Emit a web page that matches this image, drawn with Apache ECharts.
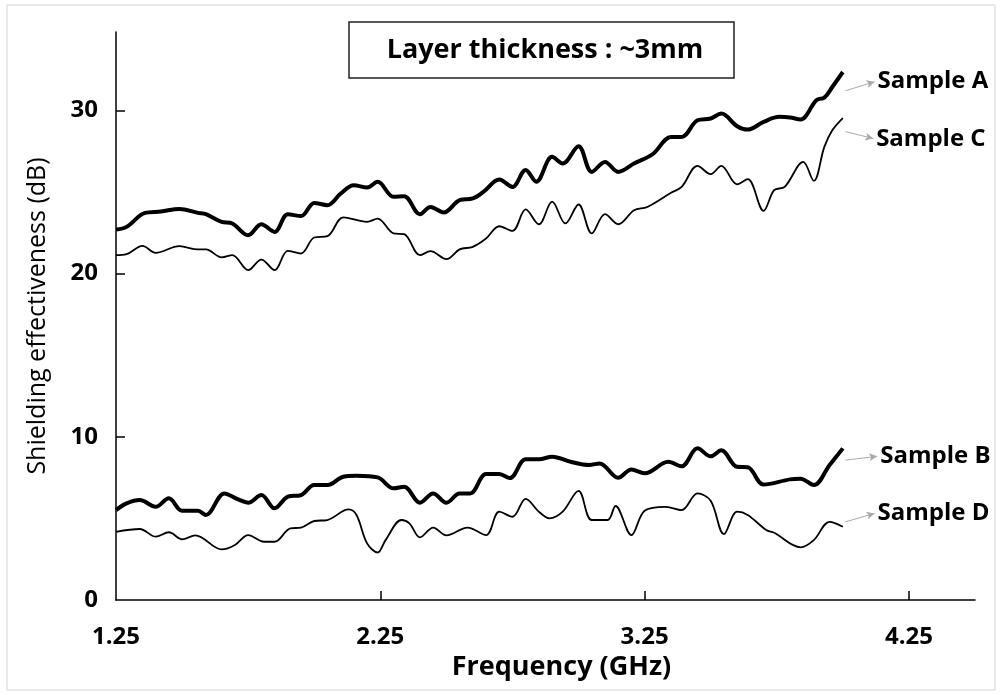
<!DOCTYPE html>
<html>
<head>
<meta charset="utf-8">
<script src="https://cdn.jsdelivr.net/npm/echarts@6/dist/echarts.min.js"></script>
<style>
  html, body { margin: 0; padding: 0; background: #fff; }
  #chart { width: 1002px; height: 695px; }
</style>
</head>
<body>
<div id="chart"></div>
<script>
// [frequency GHz, shielding effectiveness dB]
const sampleA = [[1.25,22.70],[1.29,22.86],[1.36,23.72],[1.42,23.80],[1.49,23.96],[1.56,23.72],[1.59,23.64],[1.65,23.17],[1.69,23.07],[1.75,22.35],[1.80,23.02],[1.85,22.55],[1.90,23.64],[1.95,23.52],[2.00,24.33],[2.05,24.19],[2.10,24.90],[2.15,25.41],[2.20,25.27],[2.24,25.62],[2.30,24.70],[2.34,24.74],[2.40,23.64],[2.44,24.08],[2.49,23.74],[2.55,24.50],[2.60,24.60],[2.64,25.00],[2.70,25.76],[2.75,25.31],[2.80,26.35],[2.84,25.63],[2.90,27.15],[2.94,26.74],[3.00,27.80],[3.05,26.23],[3.10,26.84],[3.15,26.23],[3.21,26.74],[3.28,27.31],[3.35,28.37],[3.39,28.37],[3.45,29.39],[3.50,29.50],[3.54,29.80],[3.60,29.03],[3.64,28.82],[3.70,29.29],[3.76,29.60],[3.80,29.56],[3.84,29.44],[3.90,30.62],[3.93,30.78],[3.96,31.43],[4.00,32.35]];
const sampleC = [[1.25,21.13],[1.29,21.19],[1.35,21.70],[1.40,21.27],[1.49,21.68],[1.56,21.48],[1.59,21.48],[1.65,20.99],[1.69,21.13],[1.75,20.21],[1.80,20.86],[1.85,20.21],[1.90,21.39],[1.95,21.23],[2.00,22.21],[2.05,22.29],[2.11,23.44],[2.20,23.17],[2.24,23.37],[2.30,22.46],[2.34,22.41],[2.40,21.13],[2.44,21.37],[2.50,20.88],[2.55,21.48],[2.60,21.64],[2.65,22.15],[2.70,22.90],[2.75,22.61],[2.80,23.93],[2.85,23.02],[2.90,24.41],[2.95,23.07],[3.00,24.23],[3.05,22.46],[3.10,23.64],[3.15,23.02],[3.21,23.88],[3.26,24.08],[3.35,24.95],[3.39,25.31],[3.45,26.60],[3.50,26.09],[3.54,26.60],[3.60,25.47],[3.64,25.78],[3.70,23.84],[3.74,25.11],[3.78,25.31],[3.85,26.84],[3.89,25.68],[3.93,27.76],[3.96,28.78],[4.00,29.53]];
const sampleB = [[1.25,5.51],[1.29,5.92],[1.34,6.12],[1.40,5.71],[1.45,6.23],[1.50,5.47],[1.56,5.47],[1.59,5.21],[1.66,6.53],[1.71,6.18],[1.75,5.96],[1.80,6.43],[1.85,5.62],[1.90,6.33],[1.95,6.43],[2.00,7.04],[2.05,7.04],[2.11,7.55],[2.16,7.61],[2.24,7.51],[2.30,6.84],[2.34,6.94],[2.40,5.96],[2.45,6.53],[2.50,5.96],[2.55,6.53],[2.59,6.53],[2.65,7.72],[2.70,7.72],[2.74,7.47],[2.80,8.62],[2.85,8.62],[2.90,8.78],[2.97,8.47],[3.04,8.27],[3.08,8.37],[3.15,7.49],[3.20,8.00],[3.25,7.76],[3.34,8.47],[3.39,8.19],[3.45,9.29],[3.50,8.80],[3.54,9.17],[3.60,8.16],[3.64,8.14],[3.70,7.07],[3.80,7.39],[3.84,7.43],[3.89,7.04],[3.95,8.27],[4.00,9.29]];
const sampleD = [[1.25,4.18],[1.34,4.35],[1.40,3.88],[1.45,4.15],[1.50,3.72],[1.55,3.96],[1.65,3.10],[1.70,3.37],[1.75,3.98],[1.81,3.57],[1.85,3.57],[1.91,4.39],[1.95,4.43],[2.00,4.84],[2.05,4.90],[2.13,5.55],[2.16,5.21],[2.20,3.47],[2.24,2.91],[2.27,3.67],[2.33,4.90],[2.36,4.70],[2.40,3.84],[2.45,4.44],[2.50,3.96],[2.58,4.44],[2.65,3.98],[2.70,5.41],[2.75,5.10],[2.80,6.20],[2.85,5.41],[2.89,5.00],[2.94,5.41],[3.00,6.69],[3.05,4.90],[3.11,4.90],[3.14,5.76],[3.20,3.98],[3.25,5.47],[3.33,5.71],[3.39,5.51],[3.45,6.53],[3.50,6.08],[3.55,4.04],[3.60,5.41],[3.64,5.21],[3.71,4.29],[3.74,4.12],[3.84,3.23],[3.89,3.67],[3.95,4.79],[4.00,4.49]];

const xTicks = [1.25, 2.25, 3.25, 4.25];
const yTicks = [0, 10, 20, 30];

const FONT = 'Open Sans';

// label arrows: [from, to] in data units
const arrows = {
  'Sample A': [[4.01, 31.2], [4.12, 31.75]],
  'Sample C': [[4.01, 28.7], [4.115, 28.27]],
  'Sample B': [[4.01, 8.57], [4.13, 8.8]],
  'Sample D': [[4.01, 4.79], [4.12, 5.3]]
};

const chart = echarts.init(document.getElementById('chart'));

const mkSeries = (name, data, width) => ({
  name,
  type: 'line',
  data,
  smooth: 0.35,
  showSymbol: false,
  lineStyle: { color: '#000', width },
  markLine: {
    silent: true,
    symbol: ['none', 'arrow'],
    symbolSize: [6, 8],
    lineStyle: { color: '#aaa', width: 1, type: 'solid' },
    label: {
      show: true,
      position: 'end',
      formatter: name,
      color: '#000',
      fontFamily: FONT,
      fontWeight: 'bold',
      fontSize: 24,
      distance: 3
    },
    data: [[{ coord: arrows[name][0] }, { coord: arrows[name][1] }]]
  }
});

chart.setOption({
  animation: false,
  backgroundColor: '#fff',
  textStyle: { fontFamily: FONT },
  grid: { left: 116, right: 27, top: 32, bottom: 95 },
  xAxis: {
    type: 'value',
    min: 1.25,
    max: 4.5,
    name: 'Frequency (GHz)',
    nameLocation: 'middle',
    nameGap: 49,
    nameTextStyle: { fontSize: 27, fontWeight: 'bold', color: '#000', padding: [0, 0, 0, 32] },
    axisLine: { lineStyle: { color: '#000', width: 1.5 } },
    axisTick: { show: true, inside: true, length: 9, customValues: xTicks.slice(1), lineStyle: { color: '#000', width: 1.5 } },
    axisLabel: { customValues: xTicks, margin: 25, fontSize: 24, fontWeight: 'bold', color: '#000', formatter: v => v.toFixed(2) },
    splitLine: { show: false }
  },
  yAxis: {
    type: 'value',
    min: 0,
    max: 34.8,
    name: 'Shielding effectiveness (dB)',
    nameLocation: 'middle',
    nameGap: 66,
    nameTextStyle: { fontSize: 25, color: '#000' },
    axisLine: { show: true, lineStyle: { color: '#000', width: 1.5 } },
    axisTick: { show: true, inside: true, length: 9, customValues: yTicks.slice(1), lineStyle: { color: '#000', width: 1.5 } },
    axisLabel: { customValues: yTicks, margin: 18, fontSize: 24, fontWeight: 'bold', color: '#000' },
    splitLine: { show: false }
  },
  graphic: [
    { type: 'rect', shape: { x: 7, y: 5, width: 988, height: 685 }, style: { fill: 'none', stroke: '#d4d4d4', lineWidth: 1 }, silent: true },
    { type: 'rect', shape: { x: 349, y: 22, width: 385, height: 56 }, style: { fill: '#fff', stroke: '#222', lineWidth: 1.5 }, silent: true },
    { type: 'text', x: 545, y: 50, style: { text: 'Layer thickness : ~3mm', fontFamily: FONT, fontSize: 27, fontWeight: 'bold', fill: '#000', align: 'center', verticalAlign: 'middle' }, silent: true }
  ],
  series: [
    mkSeries('Sample A', sampleA, 4),
    mkSeries('Sample C', sampleC, 1.8),
    mkSeries('Sample B', sampleB, 4),
    mkSeries('Sample D', sampleD, 1.8)
  ]
});
</script>
</body>
</html>
